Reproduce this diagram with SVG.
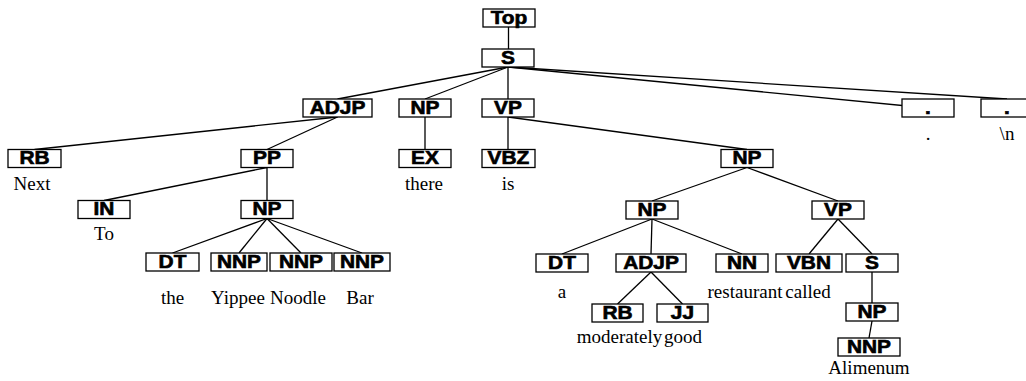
<svg xmlns="http://www.w3.org/2000/svg" width="1026" height="381" viewBox="0 0 1026 381">
<style>
.b{fill:#fff;stroke:#000;stroke-width:1.3}
.t{font-family:"Liberation Sans",Arial,sans-serif;font-weight:bold;font-size:18px;text-anchor:middle;fill:#000;stroke:#000;stroke-width:0.6;transform-box:fill-box;transform-origin:center;transform:scaleX(1.16)}
.w{font-family:"Liberation Serif","Times New Roman",serif;font-size:19px;text-anchor:middle;fill:#000}
#edges line{stroke:#000;stroke-width:1.3}
</style>
<rect width="1026" height="381" fill="#fff"/>
<g id="edges">
<line x1="508.5" y1="27" x2="508.5" y2="49"/>
<line x1="508" y1="67" x2="337.5" y2="99"/>
<line x1="508" y1="67" x2="425" y2="99"/>
<line x1="508" y1="67" x2="508" y2="99"/>
<line x1="508" y1="67" x2="928" y2="108"/>
<line x1="508" y1="67" x2="1007" y2="99"/>
<line x1="337.5" y1="117" x2="34.5" y2="149.5"/>
<line x1="337.5" y1="117" x2="267" y2="149.5"/>
<line x1="425" y1="117" x2="425" y2="149.5"/>
<line x1="508" y1="117" x2="508" y2="149.5"/>
<line x1="508" y1="117" x2="747" y2="149.5"/>
<line x1="267" y1="167.5" x2="104" y2="200.5"/>
<line x1="267" y1="167.5" x2="267" y2="200.5"/>
<line x1="747" y1="167.5" x2="652" y2="201"/>
<line x1="747" y1="167.5" x2="838" y2="201"/>
<line x1="267" y1="218.5" x2="172.5" y2="253"/>
<line x1="267" y1="218.5" x2="239" y2="253"/>
<line x1="267" y1="218.5" x2="301" y2="253"/>
<line x1="267" y1="218.5" x2="362" y2="253"/>
<line x1="652" y1="219" x2="562" y2="254"/>
<line x1="652" y1="219" x2="651" y2="254"/>
<line x1="652" y1="219" x2="742" y2="254"/>
<line x1="838" y1="219" x2="809" y2="254"/>
<line x1="838" y1="219" x2="872" y2="254"/>
<line x1="651" y1="272" x2="617.5" y2="304"/>
<line x1="651" y1="272" x2="682.5" y2="304"/>
<line x1="872" y1="272" x2="872" y2="303"/>
<line x1="872" y1="321" x2="869" y2="338"/>
</g>
<g id="n-top"><rect class="b" x="483" y="9" width="52" height="18"/><text class="t" x="509" y="24">Top</text></g>
<g id="n-s"><rect class="b" x="482" y="49" width="52" height="18"/><text class="t" x="508" y="64">S</text></g>
<g id="n-adjp1"><rect class="b" x="303" y="99" width="69" height="18"/><text class="t" x="337.5" y="114">ADJP</text></g>
<g id="n-np1"><rect class="b" x="399" y="99" width="52" height="18"/><text class="t" x="425" y="114">NP</text></g>
<g id="n-vp1"><rect class="b" x="482" y="99" width="52" height="18"/><text class="t" x="508" y="114">VP</text></g>
<g id="n-dot1"><rect class="b" x="902" y="99" width="52" height="18"/><text class="t" x="928" y="114">.</text><text class="w" x="928" y="140">.</text></g>
<g id="n-dot2"><rect class="b" x="981" y="99" width="52" height="18"/><text class="t" x="1007" y="114">.</text><text class="w" x="1007" y="140">\n</text></g>
<g id="n-rb1"><rect class="b" x="8" y="149.5" width="53" height="18"/><text class="t" x="34.5" y="164.5">RB</text><text class="w" x="32" y="190">Next</text></g>
<g id="n-pp"><rect class="b" x="241" y="149.5" width="52" height="18"/><text class="t" x="267" y="164.5">PP</text></g>
<g id="n-ex"><rect class="b" x="399" y="149.5" width="52" height="18"/><text class="t" x="425" y="164.5">EX</text><text class="w" x="424" y="190">there</text></g>
<g id="n-vbz"><rect class="b" x="482" y="149.5" width="53" height="18"/><text class="t" x="508.5" y="164.5">VBZ</text><text class="w" x="508" y="190">is</text></g>
<g id="n-np2"><rect class="b" x="721" y="149.5" width="52" height="18"/><text class="t" x="747" y="164.5">NP</text></g>
<g id="n-in"><rect class="b" x="78" y="200.5" width="52" height="18"/><text class="t" x="104" y="215.5">IN</text><text class="w" x="104" y="240">To</text></g>
<g id="n-np3"><rect class="b" x="241" y="200.5" width="52" height="18"/><text class="t" x="267" y="215.5">NP</text></g>
<g id="n-np4"><rect class="b" x="626" y="201" width="52" height="18"/><text class="t" x="652" y="216">NP</text></g>
<g id="n-vp2"><rect class="b" x="812" y="201" width="52" height="18"/><text class="t" x="838" y="216">VP</text></g>
<g id="n-dt1"><rect class="b" x="146" y="253" width="53" height="18"/><text class="t" x="172.5" y="268">DT</text><text class="w" x="172.5" y="304">the</text></g>
<g id="n-nnp1"><rect class="b" x="211" y="253" width="56" height="18"/><text class="t" x="239" y="268">NNP</text><text class="w" x="238" y="304">Yippee</text></g>
<g id="n-nnp2"><rect class="b" x="270" y="253" width="62" height="18"/><text class="t" x="301" y="268">NNP</text><text class="w" x="298" y="304">Noodle</text></g>
<g id="n-nnp3"><rect class="b" x="334" y="253" width="56" height="18"/><text class="t" x="362" y="268">NNP</text><text class="w" x="360" y="304">Bar</text></g>
<g id="n-dt2"><rect class="b" x="536" y="254" width="52" height="18"/><text class="t" x="562" y="269">DT</text><text class="w" x="562" y="298">a</text></g>
<g id="n-adjp2"><rect class="b" x="616" y="254" width="70" height="18"/><text class="t" x="651" y="269">ADJP</text></g>
<g id="n-nn"><rect class="b" x="716" y="254" width="52" height="18"/><text class="t" x="742" y="269">NN</text><text class="w" x="745" y="298">restaurant</text></g>
<g id="n-vbn"><rect class="b" x="776" y="254" width="66" height="18"/><text class="t" x="809" y="269">VBN</text><text class="w" x="808" y="298">called</text></g>
<g id="n-s2"><rect class="b" x="846" y="254" width="52" height="18"/><text class="t" x="872" y="269">S</text></g>
<g id="n-rb2"><rect class="b" x="592" y="304" width="51" height="18"/><text class="t" x="617.5" y="319">RB</text><text class="w" x="619.5" y="343">moderately</text></g>
<g id="n-jj"><rect class="b" x="657" y="304" width="51" height="18"/><text class="t" x="682.5" y="319">JJ</text><text class="w" x="683" y="343">good</text></g>
<g id="n-np5"><rect class="b" x="846" y="303" width="52" height="18"/><text class="t" x="872" y="318">NP</text></g>
<g id="n-nnp4"><rect class="b" x="838" y="338" width="62" height="18"/><text class="t" x="869" y="353">NNP</text><text class="w" x="869" y="374">Alimenum</text></g>
</svg>
